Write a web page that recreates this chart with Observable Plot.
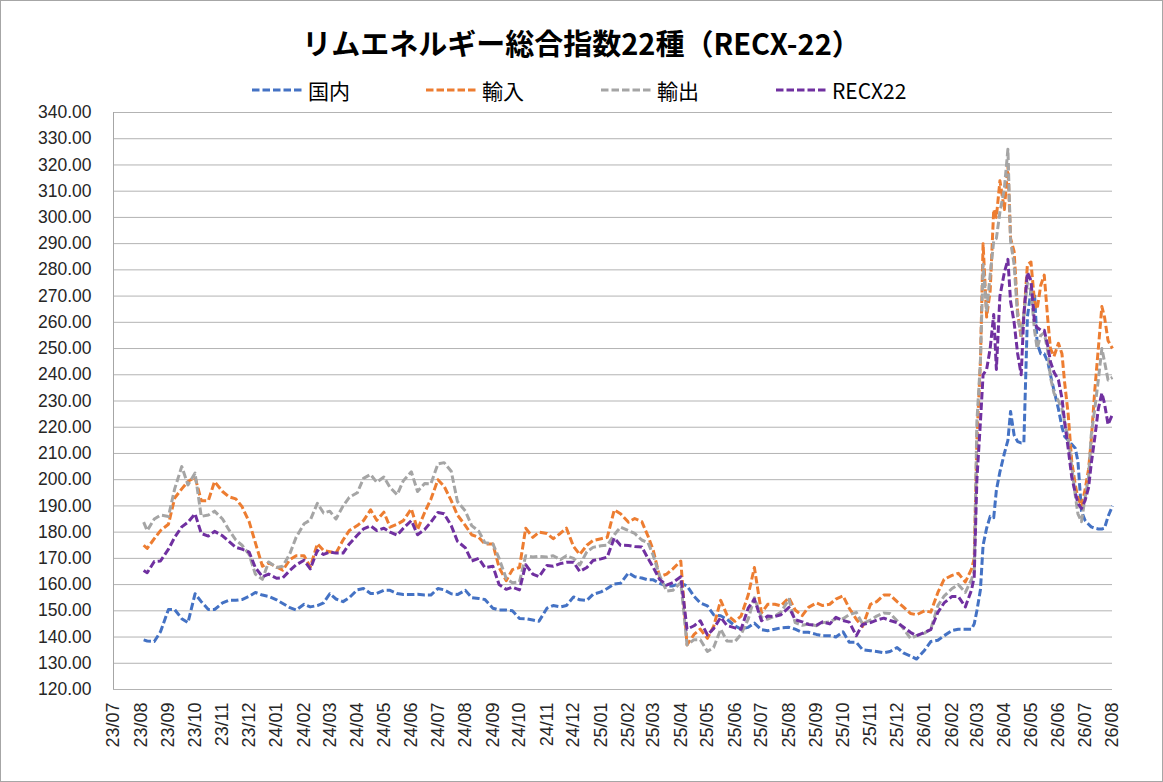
<!DOCTYPE html>
<html><head><meta charset="utf-8">
<script src="https://cdn.jsdelivr.net/npm/d3@7"></script>
<script src="https://cdn.jsdelivr.net/npm/@observablehq/plot@0.6"></script>
<style>
body{margin:0;background:#fff;}
#wrap{position:relative;width:1163px;height:782px;overflow:hidden;background:#fff;}
#frame{position:absolute;left:0;top:0;width:1163px;height:782px;box-sizing:border-box;border:1px solid #a6a6a6;pointer-events:none;}
#head{position:relative;height:100px;}
#title{position:absolute;left:0;right:0;top:19px;text-align:center;font-family:"Noto Sans CJK JP";font-weight:bold;font-size:29px;line-height:46px;color:#000;}
.leg{position:absolute;top:76px;height:28px;display:flex;align-items:center;font-family:"Noto Sans CJK JP";font-size:21px;color:#000;white-space:nowrap;}
.leg svg{margin-right:4px;}
#plot svg{display:block;}
</style></head>
<body>
<div id="wrap">
  <div id="head">
    <div id="title">リムエネルギー総合指数22種（RECX-22）</div>
  </div>
  <div id="plot"></div>
  <div id="frame"></div>
</div>
<script>
const seriesNames = ["国内", "輸入", "輸出", "RECX22"];
const seriesColors = ["#4472C4", "#ED7D31", "#A5A5A5", "#7030A0"];
const legendLeft = [252, 426, 601, 776];

const dates = [
"2023-08-04","2023-08-08","2023-08-16","2023-08-23",
"2023-09-01","2023-09-08","2023-09-16","2023-09-23",
"2023-10-01","2023-10-08","2023-10-16","2023-10-23",
"2023-11-01","2023-11-08","2023-11-16","2023-11-23",
"2023-12-01","2023-12-08","2023-12-16","2023-12-23",
"2024-01-01","2024-01-08","2024-01-16","2024-01-23",
"2024-02-01","2024-02-08","2024-02-16","2024-02-23",
"2024-03-01","2024-03-08","2024-03-16","2024-03-23",
"2024-04-01","2024-04-08","2024-04-16","2024-04-23",
"2024-05-01","2024-05-08","2024-05-16","2024-05-23",
"2024-06-01","2024-06-08","2024-06-16","2024-06-23",
"2024-07-01","2024-07-08","2024-07-16","2024-07-23",
"2024-08-01","2024-08-08","2024-08-16","2024-08-23",
"2024-09-01","2024-09-08","2024-09-16","2024-09-23",
"2024-10-01","2024-10-08","2024-10-16","2024-10-23",
"2024-11-01","2024-11-08","2024-11-16","2024-11-23",
"2024-12-01","2024-12-08","2024-12-16","2024-12-23",
"2025-01-01","2025-01-08","2025-01-16","2025-01-23",
"2025-02-01","2025-02-08","2025-02-16","2025-02-23",
"2025-03-01","2025-03-08","2025-03-16","2025-03-23",
"2025-04-01","2025-04-08","2025-04-16","2025-04-23",
"2025-05-01","2025-05-08","2025-05-16","2025-05-23",
"2025-06-01","2025-06-08","2025-06-16","2025-06-23",
"2025-07-01","2025-07-08","2025-07-16","2025-07-23",
"2025-08-01","2025-08-08","2025-08-16","2025-08-23",
"2025-09-01","2025-09-08","2025-09-16","2025-09-23",
"2025-10-01","2025-10-08","2025-10-16","2025-10-23",
"2025-11-01","2025-11-08","2025-11-16","2025-11-23",
"2025-12-01","2025-12-08","2025-12-16","2025-12-23",
"2026-01-01","2026-01-08","2026-01-16","2026-01-23",
"2026-02-01","2026-02-08","2026-02-16","2026-02-23","2026-02-26",
"2026-03-01","2026-03-05","2026-03-08","2026-03-12","2026-03-16","2026-03-20","2026-03-23","2026-03-27",
"2026-04-01","2026-04-05","2026-04-08","2026-04-12","2026-04-16","2026-04-20","2026-04-23","2026-04-27",
"2026-05-01","2026-05-05","2026-05-08","2026-05-12","2026-05-16","2026-05-20","2026-05-23","2026-05-27",
"2026-06-01","2026-06-05","2026-06-08","2026-06-12","2026-06-16","2026-06-20","2026-06-23","2026-06-27",
"2026-07-01","2026-07-05","2026-07-08","2026-07-12","2026-07-16","2026-07-20","2026-07-23","2026-07-27",
"2026-08-01"
];

const domestic = [
138.9,138.5,138.3,142,
150.5,150.5,147,145.5,
156.5,153.5,150.5,150.5,
153,154,154,154.3,
155.5,157,156,155.5,
154.2,152.8,151.2,150.3,
152.5,151.5,152,153,
156.5,154.5,153.5,155,
158,158.5,156.6,156.6,
157.8,157.8,156.6,156.2,
156.2,156.3,156,156,
158.5,158,156.5,156.2,
157.8,155,154.7,154.3,
151,150.3,150.3,150,
147.1,147,146.5,146,
151,152,151.5,152,
155.3,154.2,154,156.3,
157.2,158.5,160.2,160.5,
164.5,163,162.5,161.8,
161.8,160.5,159.5,159.5,
160.5,159.5,155.5,153,
151.9,148.5,148.1,146.8,
144.3,143,143.7,145.3,
142.8,142.4,143,143.5,
143.7,143,141.8,141.8,
141,140.5,140.5,140,
142,138,138,135.2,
134.8,134.5,134,134.5,
136,134,132.8,131.6,
135,138.3,138.8,140.5,
142.5,143,143,143,145,
150,158,175,181.5,186,185.5,196,203,
210,215,226,217,214.5,214,214,262,
272,271,252,248,248,245,240,234,
227,220,216.5,215,213.5,212,207,188,
184.5,183,182,181.5,181.2,181.2,181.5,186,
190
];

const imports = [
175,173.8,177.5,180.6,
183,193,196.5,199.3,
201,192,192,199.3,
195.5,193.5,192.7,189.7,
184,176,167,168.3,
166.7,165.5,169.5,171,
171,166.7,175.6,173,
172.5,172,177,180.6,
182.5,184.4,188.5,184.5,
187.6,181.9,183,184.4,
188.9,181,187.5,192.5,
200,197.5,192,186.5,
182.5,179,178,175.5,
175.5,166.5,161.5,165.7,
166.5,181.5,178,180,
179.5,177.5,179.5,181.5,
174.5,171.5,175,176.8,
177.5,178,188.5,187,
183.8,185.2,184,178.5,
173,163,164,166,
169,137,141,143,
139.5,144,154,148.5,
146,148,156,166.5,
149.2,152.5,152.5,151.9,
155,150.3,148.2,151.3,
153,152,152.5,154.5,
155.7,151,146.8,144,
152.5,153.5,156,156,
153.5,151.5,149,148.5,
150,149.5,157,162,
163.5,164.3,161,166,170,
215,245,290,262,272,303,300,314,
303,320,292,287,264,254,262,282,
283,268,265,274,278,261,250,247,
252,248,237,225,207,198,193,190,
196,204,215,234,250,266,262,253,
250
];

const exports = [
183.8,180.6,185,186.5,
186,196.5,205,198,
202.5,186,186.5,188,
185,181,177,175,
171.5,164,162,168.6,
166.5,167,171.8,178,
183.2,184.6,191,187.3,
188,185,190,193.3,
195,200.5,202,199,
201,197,194.3,199.6,
203,195.5,198.5,198.4,
206,206.5,203.2,191.7,
188,182.5,180.4,176,
175.5,170,162.3,160.7,
161,171,170.5,170.8,
170.5,171,169.5,171,
170,167.5,172.5,174.2,
174.8,175,179,181.9,
180.6,179.5,177,176,
171,163.5,157.5,157.8,
160.8,137,139,139,
134.5,136,143,138.5,
138.3,141,146.8,155,
147.5,146.8,148,149.5,
154.4,145.5,144.5,145,
144.3,145.5,145.8,147,
147,148.5,149.4,145,
146.5,148,149.2,149,
146.2,143.3,139.5,140.5,
141.5,143,152,155.6,
158.5,160,157,162,165,
222,245,282,264,278,291,292,302,
311,326,291,282,262,255,263,275,
272,257,250,255,256,249,239,233,
230,227,222,216,205,194,187,184,
193,201,217,227,238,250,245,238,
239
];

const recx22 = [
165.4,164.5,168.8,169,
173.5,178,182,183.8,
187,179.5,178.5,180.3,
178.6,176.5,174.2,173.5,
172.4,166.5,163,164,
162.4,162.6,165.4,167.5,
169.3,166,173,171.5,
172.4,172,172,175.5,
178.8,181.2,182.4,180.6,
181.5,180,178.8,181.5,
184.4,179,181,183.8,
187.5,187,182.5,176.5,
174,169,170,166.5,
167,160,158.2,159,
158,167.6,164,163,
167.3,167,168,168.5,
168.5,165,166.5,169.2,
169.8,170.5,177.8,175,
174.9,174.5,174.3,170,
166.5,162,159.8,160.8,
163,143,144.3,146.2,
140.8,143.2,147.5,144.4,
143.5,143,151,154.5,
146.2,148,147.8,148.5,
151.3,146.6,145.8,144.8,
144.5,145.8,145,147.5,
146.3,145.7,140.5,144.8,
145.5,146.5,147.2,146.3,
145.5,143.8,141.8,140.5,
141.8,142.8,149.4,153,
155.5,155.5,151.5,158,163,
200,222,240,242,250,263,242,270,
279,284,268,260,248,240,263,279,
276,260,258,257,257,251,245,241,
238,231,222,212,201,195,191,189,
192,197,206,216,227,233,229,221,
225
];

const yTicks = [120,130,140,150,160,170,180,190,200,210,220,230,240,250,260,270,280,290,300,310,320,330,340];
const xStart = "2023-07-01";
const xEnd = "2026-08-01";
const dash = "7.5,3";

const seriesValues = [domestic, imports, exports, recx22];

// legend
const head = document.getElementById("head");
seriesNames.forEach((name, i) => {
  const d = document.createElement("div");
  d.className = "leg";
  d.style.left = legendLeft[i] + "px";
  d.innerHTML = `<svg width="52" height="6"><line x1="0" y1="3" x2="52" y2="3" stroke="${seriesColors[i]}" stroke-width="3" stroke-dasharray="${dash}"/></svg><span>${name}</span>`;
  head.appendChild(d);
});

const parsed = dates.map(s => new Date(s + "T00:00:00Z"));
const rows = seriesValues.map((vals, si) => vals.map((v, i) => ({date: parsed[i], value: v, name: seriesNames[si]})));
const monthTicks = d3.utcMonth.range(new Date(xStart + "T00:00:00Z"), new Date("2026-08-02T00:00:00Z"));

const chart = Plot.plot({
  width: 1163,
  height: 682,
  marginTop: 12,
  marginLeft: 113,
  marginRight: 51,
  marginBottom: 93,
  style: {fontFamily: "Liberation Sans", fontSize: "17px", color: "#262626", background: "transparent"},
  x: {
    type: "utc",
    domain: [new Date(xStart + "T00:00:00Z"), new Date(xEnd + "T00:00:00Z")]
  },
  y: {
    domain: [120, 340]
  },
  marks: [
    Plot.ruleY(yTicks, {stroke: "#b3b3b3", strokeWidth: 1}),
    Plot.ruleX([new Date(xStart + "T00:00:00Z")], {stroke: "#a6a6a6", strokeWidth: 1}),
    Plot.axisX({ticks: monthTicks, tickFormat: d3.utcFormat("%y/%m"), tickRotate: -90, tickSize: 0, tickPadding: 13, fontSize: 18, label: null}),
    Plot.axisY({ticks: yTicks, tickFormat: d => d.toFixed(2), tickSize: 0, tickPadding: 22, fontSize: 17.5, label: null}),
    ...rows.map((r, i) => Plot.line(r, {x: "date", y: "value", stroke: seriesColors[i], strokeWidth: 3, strokeDasharray: dash, strokeLinecap: "butt", strokeLinejoin: "round"}))
  ]
});
document.getElementById("plot").appendChild(chart);
</script>
</body></html>
